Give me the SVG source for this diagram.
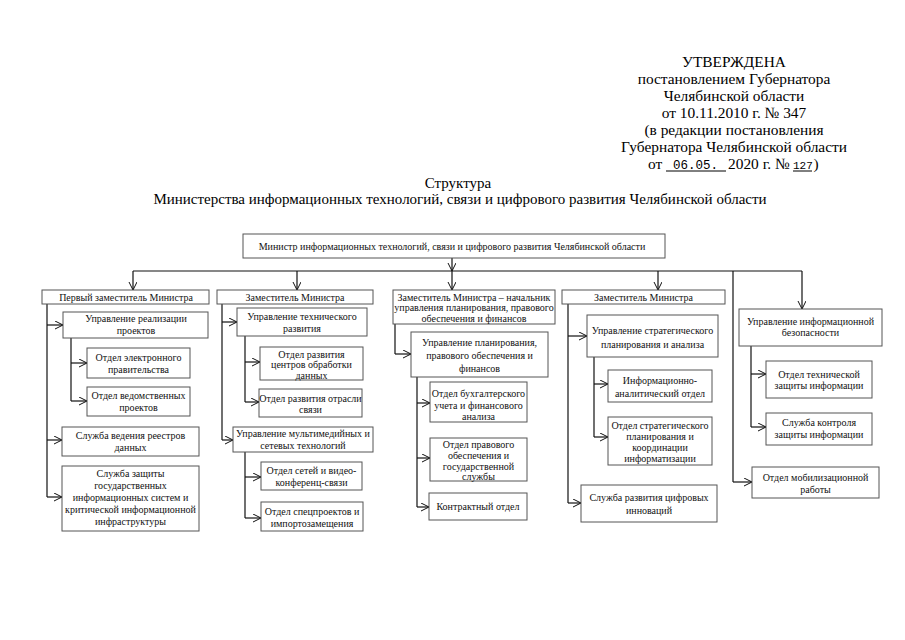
<svg xmlns="http://www.w3.org/2000/svg" width="905" height="640" viewBox="0 0 905 640">
<style>
.bg{fill:#fff}
.box{fill:#fff;stroke:#555;stroke-width:1}
.t{font-family:"Liberation Serif","Times New Roman",serif;font-size:10px;fill:#111;text-anchor:middle}
.h{font-family:"Liberation Serif","Times New Roman",serif;font-size:15.4px;fill:#000;text-anchor:middle}
.ti{font-family:"Liberation Serif","Times New Roman",serif;font-size:15px;fill:#000;text-anchor:middle}
.hs{font-family:"Liberation Serif","Times New Roman",serif;font-size:15.4px;fill:#000}
.m{font-family:"Liberation Mono","Courier New",monospace;font-size:12.5px;fill:#000}
.m2{font-family:"Liberation Mono","Courier New",monospace;font-size:11px;fill:#000}
.c{stroke:#111;stroke-width:1.2;fill:none}
.a{stroke:#111;stroke-width:1.2;fill:none;marker-end:url(#ar)}
.u{stroke:#000;stroke-width:1}
</style>
<defs>
<marker id="ar" markerUnits="userSpaceOnUse" markerWidth="10" markerHeight="10" refX="8" refY="4" orient="auto">
<path d="M0,0 L8,4 L0,8" fill="none" stroke="#111" stroke-width="1"/>
</marker>
</defs>
<rect class="bg" x="0" y="0" width="905" height="640"/>
<g id="header">
<text class="h" x="734" y="67">УТВЕРЖДЕНА</text>
<text class="h" x="734" y="84">постановлением Губернатора</text>
<text class="h" x="734" y="101">Челябинской области</text>
<text class="h" x="734" y="118">от 10.11.2010 г. № 347</text>
<text class="h" x="734" y="135">(в редакции постановления</text>
<text class="h" x="734" y="152">Губернатора Челябинской области</text>
<text class="hs" x="648" y="169">от</text>
<text class="m" x="673" y="169">06.05.</text>
<text class="hs" x="728" y="169">2020 г. №</text>
<text class="m2" x="793" y="169">127</text>
<text class="hs" x="813.5" y="169">)</text>
<line class="u" x1="666" y1="171" x2="726" y2="171"/>
<line class="u" x1="793" y1="171" x2="812" y2="171"/>
</g>
<g id="title">
<text class="ti" x="458" y="188">Структура</text>
<text class="ti" x="460" y="204">Министерства информационных технологий, связи и цифрового развития Челябинской области</text>
</g>
<g id="connectors">
<path class="a" d="M452,258 V271"/>
<path class="c" d="M133,271 H802"/>
<path class="a" d="M133,271 V290"/>
<path class="a" d="M297,271 V290"/>
<path class="a" d="M452,271 V290"/>
<path class="a" d="M658,271 V290"/>
<path class="a" d="M802,271 V309"/>
<path class="c" d="M733,271 V482"/>
<path class="a" d="M733,482 H752"/>
<path class="c" d="M47,304 V497"/>
<path class="a" d="M47,325 H63"/>
<path class="a" d="M47,440 H62"/>
<path class="a" d="M47,497 H62"/>
<path class="c" d="M71,338 V401"/>
<path class="a" d="M71,363 H87"/>
<path class="a" d="M71,401 H87"/>
<path class="c" d="M222,304 V440"/>
<path class="a" d="M222,322 H237"/>
<path class="a" d="M222,440 H233"/>
<path class="c" d="M245,336 V402"/>
<path class="a" d="M245,362 H260"/>
<path class="a" d="M245,402 H259"/>
<path class="c" d="M245,452 V518"/>
<path class="a" d="M245,477 H261"/>
<path class="a" d="M245,518 H261"/>
<path class="c" d="M395,324 V354"/>
<path class="a" d="M395,354 H411"/>
<path class="c" d="M417,377 V507"/>
<path class="a" d="M417,403 H430"/>
<path class="a" d="M417,458 H430"/>
<path class="a" d="M417,507 H429"/>
<path class="c" d="M568,304 V503"/>
<path class="a" d="M568,336 H587"/>
<path class="a" d="M568,503 H581"/>
<path class="c" d="M594,357 V437"/>
<path class="a" d="M594,384 H608"/>
<path class="a" d="M594,437 H608"/>
<path class="c" d="M751,346 V427"/>
<path class="a" d="M751,374 H766"/>
<path class="a" d="M751,427 H766"/>
</g>
<g id="minister">
<rect class="box" x="243" y="234" width="422" height="24"/>
<text class="t" x="452" y="249.5">Министр информационных технологий, связи и цифрового развития Челябинской области</text>
</g>
<g id="first-deputy">
<rect class="box" x="42" y="290" width="167" height="14"/>
<text class="t" x="126" y="300.5">Первый заместитель Министра</text>
</g>
<g id="upr-realizacii">
<rect class="box" x="63" y="312" width="145" height="26"/>
<text class="t" x="136" y="322">Управление реализации</text>
<text class="t" x="136" y="334">проектов</text>
</g>
<g id="otdel-elektr">
<rect class="box" x="87" y="348" width="103" height="30"/>
<text class="t" x="138.5" y="360.5">Отдел электронного</text>
<text class="t" x="138.5" y="372.5">правительства</text>
</g>
<g id="otdel-vedomst">
<rect class="box" x="87" y="387" width="103" height="29"/>
<text class="t" x="138.5" y="399">Отдел ведомственных</text>
<text class="t" x="138.5" y="411">проектов</text>
</g>
<g id="sluzhba-reestrov">
<rect class="box" x="62" y="427" width="137" height="29"/>
<text class="t" x="130.5" y="439">Служба ведения реестров</text>
<text class="t" x="130.5" y="451">данных</text>
</g>
<g id="sluzhba-zashchity">
<rect class="box" x="62" y="466" width="137" height="65"/>
<text class="t" x="130.5" y="477">Служба защиты</text>
<text class="t" x="130.5" y="489">государственных</text>
<text class="t" x="130.5" y="501">информационных систем и</text>
<text class="t" x="130.5" y="513">критической информационной</text>
<text class="t" x="130.5" y="525">инфраструктуры</text>
</g>
<g id="deputy-2">
<rect class="box" x="217" y="290" width="156" height="14"/>
<text class="t" x="295" y="300.5">Заместитель Министра</text>
</g>
<g id="upr-tekhn">
<rect class="box" x="237" y="308" width="130" height="28"/>
<text class="t" x="302" y="319.5">Управление технического</text>
<text class="t" x="302" y="331.5">развития</text>
</g>
<g id="otdel-cod">
<rect class="box" x="260" y="347" width="103" height="33"/>
<text class="t" x="311.5" y="357.5">Отдел развития</text>
<text class="t" x="311.5" y="368">центров обработки</text>
<text class="t" x="311.5" y="378.5">данных</text>
</g>
<g id="otdel-svyazi">
<rect class="box" x="259" y="389" width="103" height="28"/>
<text class="t" x="310.5" y="401.5">Отдел развития отрасли</text>
<text class="t" x="310.5" y="413">связи</text>
</g>
<g id="upr-multimedia">
<rect class="box" x="233" y="427" width="140" height="25"/>
<text class="t" x="303" y="437">Управление мультимедийных и</text>
<text class="t" x="303" y="449">сетевых технологий</text>
</g>
<g id="otdel-setey">
<rect class="box" x="261" y="462" width="101" height="28"/>
<text class="t" x="311.5" y="473.5">Отдел сетей и видео-</text>
<text class="t" x="311.5" y="486">конференц-связи</text>
</g>
<g id="otdel-specproektov">
<rect class="box" x="261" y="502" width="102" height="29"/>
<text class="t" x="312" y="514.5">Отдел спецпроектов и</text>
<text class="t" x="312" y="526.5">импортозамещения</text>
</g>
<g id="deputy-3">
<rect class="box" x="393" y="290" width="162" height="34"/>
<text class="t" x="474" y="300.5">Заместитель Министра – начальник</text>
<text class="t" x="474" y="311">управления планирования, правового</text>
<text class="t" x="474" y="321.5">обеспечения и финансов</text>
</g>
<g id="upr-planir">
<rect class="box" x="411" y="332" width="137" height="45"/>
<text class="t" x="479.5" y="345.5">Управление планирования,</text>
<text class="t" x="479.5" y="358.5">правового обеспечения и</text>
<text class="t" x="479.5" y="371.5">финансов</text>
</g>
<g id="otdel-buh">
<rect class="box" x="430" y="382" width="97" height="40"/>
<text class="t" x="478.5" y="397">Отдел бухгалтерского</text>
<text class="t" x="478.5" y="408.5">учета и финансового</text>
<text class="t" x="478.5" y="420">анализа</text>
</g>
<g id="otdel-pravovogo">
<rect class="box" x="430" y="438" width="97" height="43"/>
<text class="t" x="478.5" y="447.5">Отдел правового</text>
<text class="t" x="478.5" y="458.5">обеспечения и</text>
<text class="t" x="478.5" y="469.5">государственной</text>
<text class="t" x="478.5" y="480">службы</text>
</g>
<g id="otdel-kontrakt">
<rect class="box" x="429" y="493" width="98" height="27"/>
<text class="t" x="478" y="510">Контрактный отдел</text>
</g>
<g id="deputy-4">
<rect class="box" x="562" y="290" width="163" height="14"/>
<text class="t" x="643.5" y="300.5">Заместитель Министра</text>
</g>
<g id="upr-strateg">
<rect class="box" x="587" y="315" width="131" height="42"/>
<text class="t" x="652.5" y="333.5">Управление стратегического</text>
<text class="t" x="652.5" y="348">планирования и анализа</text>
</g>
<g id="otdel-inf-anal">
<rect class="box" x="608" y="370" width="104" height="32"/>
<text class="t" x="660" y="383.5">Информационно-</text>
<text class="t" x="660" y="396.5">аналитический отдел</text>
</g>
<g id="otdel-strateg">
<rect class="box" x="608" y="417" width="104" height="48"/>
<text class="t" x="660" y="428.5">Отдел стратегического</text>
<text class="t" x="660" y="439.5">планирования и</text>
<text class="t" x="660" y="451">координации</text>
<text class="t" x="660" y="461.5">информатизации</text>
</g>
<g id="sluzhba-innovaciy">
<rect class="box" x="581" y="485" width="136" height="37"/>
<text class="t" x="649" y="501">Служба развития цифровых</text>
<text class="t" x="649" y="514">инноваций</text>
</g>
<g id="upr-infobez">
<rect class="box" x="739" y="309" width="143" height="37"/>
<text class="t" x="810.5" y="325">Управление информационной</text>
<text class="t" x="810.5" y="336">безопасности</text>
</g>
<g id="otdel-tzi">
<rect class="box" x="766" y="361" width="106" height="37"/>
<text class="t" x="819" y="377.5">Отдел технической</text>
<text class="t" x="819" y="388.5">защиты информации</text>
</g>
<g id="sluzhba-kontrolya">
<rect class="box" x="766" y="413" width="106" height="32"/>
<text class="t" x="819" y="425.5">Служба контроля</text>
<text class="t" x="819" y="437.5">защиты информации</text>
</g>
<g id="otdel-mob">
<rect class="box" x="752" y="467" width="127" height="31"/>
<text class="t" x="815.5" y="480.5">Отдел мобилизационной</text>
<text class="t" x="815.5" y="492.5">работы</text>
</g>
</svg>
